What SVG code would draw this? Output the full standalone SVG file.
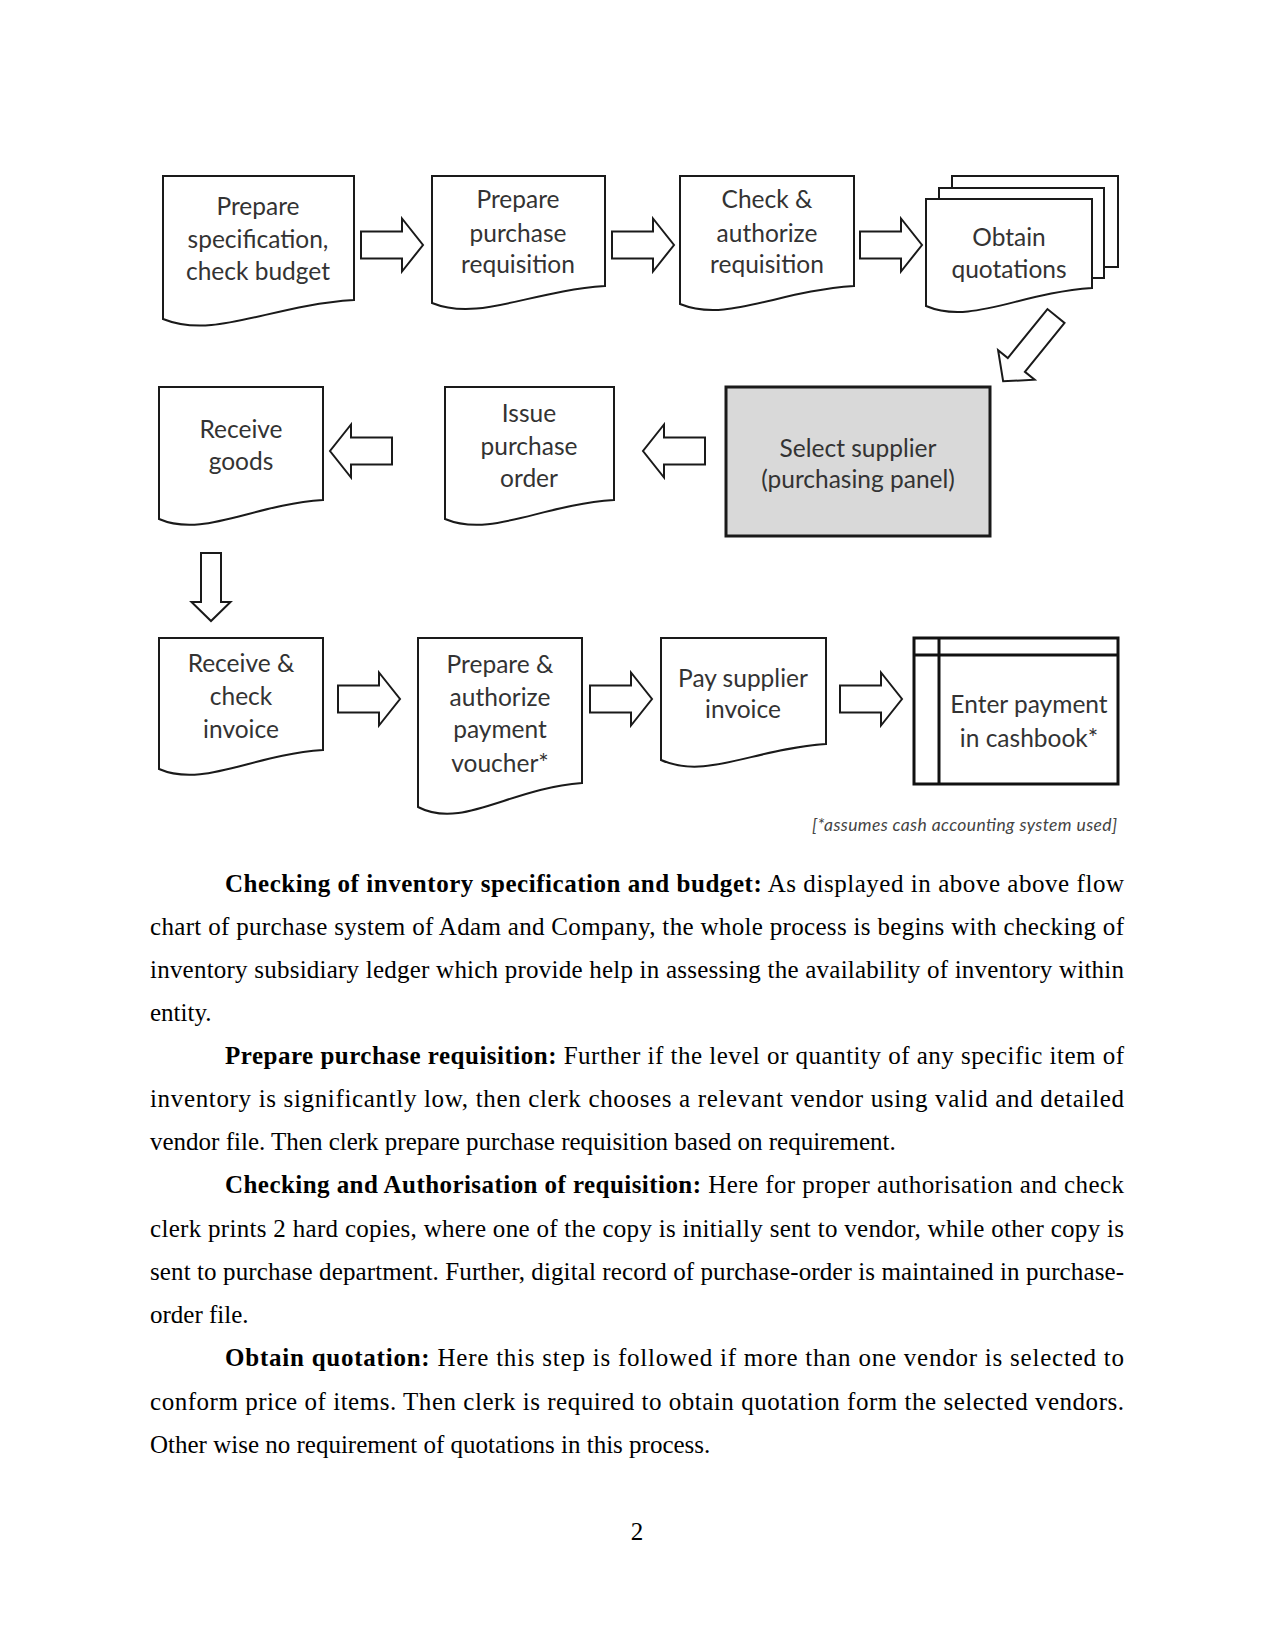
<svg xmlns="http://www.w3.org/2000/svg" width="1275" height="1651" viewBox="0 0 1275 1651">
<defs>
<style>
.doc{fill:#fff;stroke:#1a1a1a;stroke-width:2}
.arr{fill:#fff;stroke:#1a1a1a;stroke-width:2;stroke-linejoin:miter}
.lbl{font-family:Lato,"Open Sans",sans-serif;font-size:24.5px;fill:#333;text-anchor:middle}
.note{font-family:Lato,"Open Sans",sans-serif;font-size:17.5px;font-style:italic;fill:#444}
.body{font-family:"Liberation Serif","Times New Roman",serif;font-size:25px;fill:#000}
.b{font-weight:bold}
</style>
<path id="rarrow" d="M0,-13.5 H41 V-26.5 L62,0 L41,26.5 V13.5 H0 Z"/>
</defs>
<rect width="1275" height="1651" fill="#fff"/>

<g id="connectors">
<use href="#rarrow" class="arr" transform="translate(361,245)"/>
<use href="#rarrow" class="arr" transform="translate(612,245)"/>
<use href="#rarrow" class="arr" transform="translate(860,245)"/>
<path class="arr" d="M0,-11 H63 V-23.5 L84,0 L63,23.5 V11 H0 Z" transform="translate(1056,316) rotate(129)"/>
<use href="#rarrow" class="arr" transform="translate(392,451) rotate(180)"/>
<use href="#rarrow" class="arr" transform="translate(705,451) rotate(180)"/>
<path class="arr" d="M0,-10 H49 V-19.5 L68,0 L49,19.5 V10 H0 Z" transform="translate(211,553) rotate(90)"/>
<use href="#rarrow" class="arr" transform="translate(338,699)"/>
<use href="#rarrow" class="arr" transform="translate(590,699)"/>
<use href="#rarrow" class="arr" transform="translate(840,699)"/>
</g>

<g id="n1">
<path class="doc" d="M163,176 H354 V300 C270,305 215,340 163,319 Z"/>
<text class="lbl" x="258" y="215">Prepare</text>
<text class="lbl" x="258" y="248">specification,</text>
<text class="lbl" x="258" y="280">check budget</text>
</g>
<g id="n2">
<path class="doc" d="M432,176 H605 V286 C529,291 479,322 432,303 Z"/>
<text class="lbl" x="518" y="208">Prepare</text>
<text class="lbl" x="518" y="242">purchase</text>
<text class="lbl" x="518" y="273">requisition</text>
</g>
<g id="n3">
<path class="doc" d="M680,176 H854 V286 C777,291 727,323 680,304 Z"/>
<text class="lbl" x="767" y="208">Check &amp;</text>
<text class="lbl" x="767" y="242">authorize</text>
<text class="lbl" x="767" y="273">requisition</text>
</g>
<g id="n4">
<rect class="doc" x="952" y="176" width="166" height="91"/>
<rect class="doc" x="939" y="188" width="165" height="90"/>
<path class="doc" d="M926,199 H1092 V288 C1019,293 971,325 926,306 Z"/>
<text class="lbl" x="1009" y="246">Obtain</text>
<text class="lbl" x="1009" y="278">quotations</text>
</g>
<g id="n5">
<rect x="726" y="387" width="264" height="149" fill="#d9d9d9" stroke="#1a1a1a" stroke-width="3"/>
<text class="lbl" x="858" y="457">Select supplier</text>
<text class="lbl" x="858" y="488">(purchasing panel)</text>
</g>
<g id="n6">
<path class="doc" d="M445,387 H614 V500 C540,505 491,538 445,519 Z"/>
<text class="lbl" x="529" y="422">Issue</text>
<text class="lbl" x="529" y="455">purchase</text>
<text class="lbl" x="529" y="487">order</text>
</g>
<g id="n7">
<path class="doc" d="M159,387 H323 V500 C251,505 203,538 159,519 Z"/>
<text class="lbl" x="241" y="438">Receive</text>
<text class="lbl" x="241" y="470">goods</text>
</g>
<g id="n8">
<path class="doc" d="M159,638 H323 V750 C251,755 203,788 159,769 Z"/>
<text class="lbl" x="241" y="672">Receive &amp;</text>
<text class="lbl" x="241" y="705">check</text>
<text class="lbl" x="241" y="738">invoice</text>
</g>
<g id="n9">
<path class="doc" d="M418,638 H582 V783 C510,788 462,830 418,807 Z"/>
<text class="lbl" x="500" y="673">Prepare &amp;</text>
<text class="lbl" x="500" y="706">authorize</text>
<text class="lbl" x="500" y="738">payment</text>
<text class="lbl" x="500" y="772">voucher*</text>
</g>
<g id="n10">
<path class="doc" d="M661,638 H826 V744 C753,749 706,780 661,760 Z"/>
<text class="lbl" x="743" y="687">Pay supplier</text>
<text class="lbl" x="743" y="718">invoice</text>
</g>
<g id="n11">
<rect x="914" y="638" width="204" height="146" fill="#fff" stroke="#111" stroke-width="3"/>
<line x1="914" y1="655" x2="1118" y2="655" stroke="#111" stroke-width="3"/>
<line x1="939" y1="638" x2="939" y2="784" stroke="#111" stroke-width="3"/>
<text class="lbl" x="1029" y="713">Enter payment</text>
<text class="lbl" x="1029" y="747">in cashbook*</text>
</g>
<text class="note" x="812" y="831" textLength="305" lengthAdjust="spacing">[*assumes  cash  accounting  system  used]</text>

<g id="body-text">
<text class="body" x="225" y="892" textLength="899" lengthAdjust="spacing"><tspan class="b">Checking of inventory specification and budget:</tspan> As displayed in above above flow</text>
<text class="body" x="150" y="935" textLength="974" lengthAdjust="spacing">chart of purchase system of Adam and Company, the whole process is begins with checking of</text>
<text class="body" x="150" y="978" textLength="974" lengthAdjust="spacing">inventory subsidiary ledger which provide help in assessing the availability of inventory within</text>
<text class="body" x="150" y="1021">entity.</text>
<text class="body" x="225" y="1064" textLength="899" lengthAdjust="spacing"><tspan class="b">Prepare purchase requisition:</tspan> Further if the level or quantity of any specific item of</text>
<text class="body" x="150" y="1107" textLength="974" lengthAdjust="spacing">inventory is significantly low, then clerk chooses a relevant vendor using valid and detailed</text>
<text class="body" x="150" y="1150">vendor file. Then clerk prepare purchase requisition based on requirement.</text>
<text class="body" x="225" y="1193" textLength="899" lengthAdjust="spacing"><tspan class="b">Checking and Authorisation of requisition:</tspan> Here for proper authorisation and check</text>
<text class="body" x="150" y="1237" textLength="974" lengthAdjust="spacing">clerk prints 2 hard copies, where one of the copy is initially sent to vendor, while other copy is</text>
<text class="body" x="150" y="1280" textLength="974" lengthAdjust="spacing">sent to purchase department. Further, digital record of purchase-order is maintained in purchase-</text>
<text class="body" x="150" y="1323">order file.</text>
<text class="body" x="225" y="1366" textLength="899" lengthAdjust="spacing"><tspan class="b">Obtain quotation:</tspan> Here this step is followed if more than one vendor is selected to</text>
<text class="body" x="150" y="1410" textLength="974" lengthAdjust="spacing">conform price of items. Then clerk is required to obtain quotation form the selected vendors.</text>
<text class="body" x="150" y="1453">Other wise no requirement of quotations in this process.</text>
<text class="body" x="637" y="1540" text-anchor="middle">2</text>
</g>
</svg>
